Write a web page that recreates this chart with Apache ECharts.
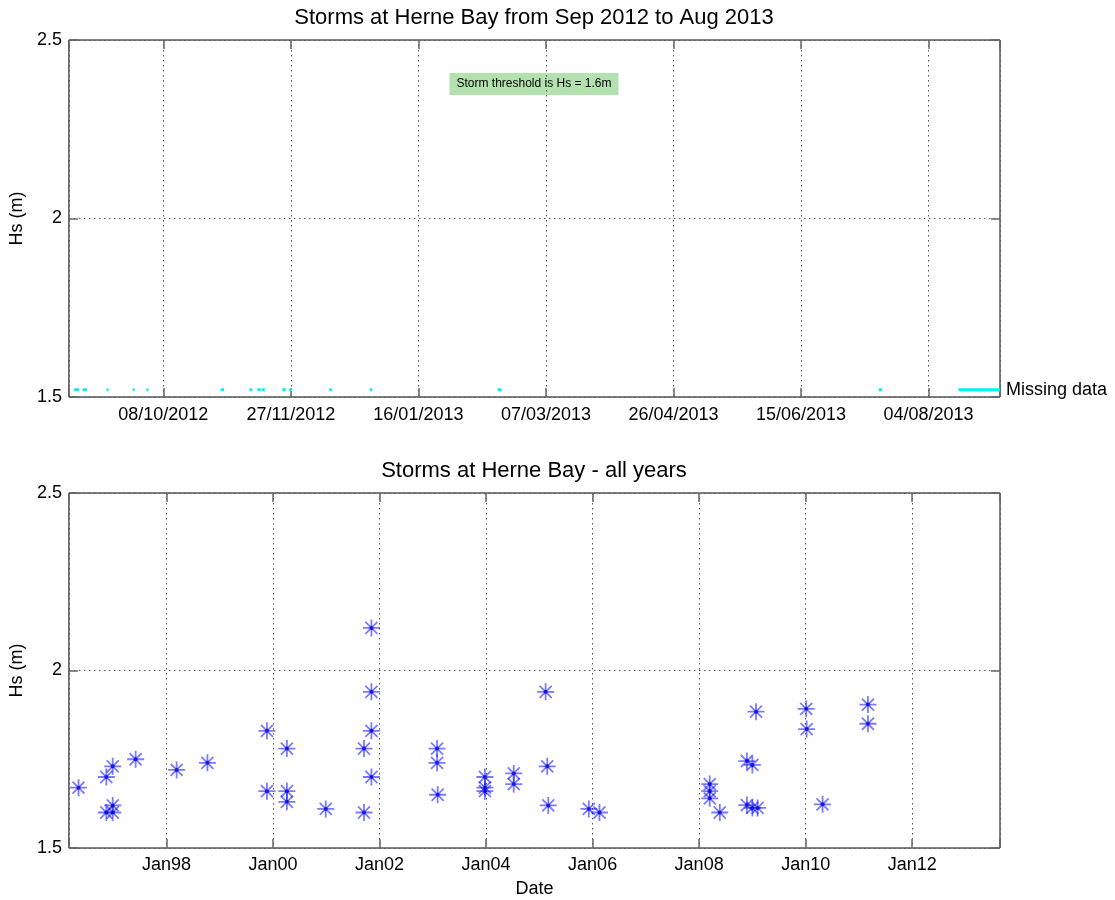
<!DOCTYPE html>
<html>
<head>
<meta charset="utf-8">
<script src="https://cdn.jsdelivr.net/npm/echarts@6/dist/echarts.min.js"></script>
<style>html,body{margin:0;padding:0;background:#fff}#c{width:1115px;height:900px}</style>
</head>
<body>
<div id="c"></div>
<script>
// ---------- data ----------
const topTitle = 'Storms at Herne Bay from Sep 2012 to Aug 2013';
const bottomTitle = 'Storms at Herne Bay - all years';
const thresholdNote = 'Storm threshold is Hs = 1.6m';
const missingLabel = 'Missing data';

const topRange = ['2012-09-01T00:00Z', '2013-09-01T00:00Z'];
const topTickAnchor = '2012-10-08T00:00Z'; // first dated tick, ticks every 50 days
const topTickDays = 50;
const hsTicks = [1.5, 2, 2.5];

const missingStarts = [
  '2012-09-03T02:00Z','2012-09-06T12:00Z','2012-09-15T18:00Z','2012-09-25T23:00Z',
  '2012-10-01T10:00Z','2012-10-30T12:00Z','2012-11-10T19:00Z','2012-11-13T22:00Z',
  '2012-11-15T17:00Z','2012-11-23T17:00Z','2012-11-26T10:00Z','2012-12-12T02:00Z',
  '2012-12-27T22:00Z','2013-02-16T02:00Z','2013-07-15T12:00Z','2013-08-15T17:00Z'
];
const missingEnds = [
  '2012-09-04T22:00Z','2012-09-08T01:00Z','2012-09-16T13:00Z','2012-09-26T18:00Z',
  '2012-10-02T05:00Z','2012-10-31T19:00Z','2012-11-11T19:00Z','2012-11-15T05:00Z',
  '2012-11-16T19:00Z','2012-11-25T00:00Z','2012-11-27T12:00Z','2012-12-13T02:00Z',
  '2012-12-28T22:00Z','2013-02-17T12:00Z','2013-07-16T19:00Z','2013-09-01T00:00Z'
];
const missingLevel = 1.52;

const allRange = ['1996-03-02', '2013-08-26'];
const allTickYears = 2;
const stormDates = [
  '1996-05-07','1996-11-14','1996-12-28','1996-11-14','1996-12-28','1996-12-28','1997-06-03',
  '1998-03-11','1998-10-08','1999-11-20','1999-11-20','2000-04-05','2000-04-05','2000-04-05',
  '2000-12-28','2001-09-16','2001-09-16','2001-11-06','2001-11-06','2001-11-06','2001-11-06',
  '2003-01-30','2003-01-30','2003-02-03','2003-12-24','2003-12-24','2003-12-24','2004-07-09',
  '2004-07-09','2005-02-13','2005-02-24','2005-03-03','2005-12-06','2006-02-17','2008-03-14',
  '2008-03-14','2008-03-14','2008-05-22','2008-11-24','2009-01-01','2009-01-26','2008-11-24',
  '2009-01-01','2009-02-06','2010-01-05','2010-01-08','2010-04-27','2011-03-04','2011-03-04'
];
const stormHs = [
  1.67,1.70,1.73,1.60,1.62,1.60,1.75,
  1.72,1.74,1.83,1.66,1.78,1.66,1.63,
  1.61,1.78,1.60,2.12,1.94,1.83,1.70,
  1.78,1.74,1.65,1.70,1.67,1.66,1.71,
  1.68,1.94,1.73,1.62,1.61,1.60,1.68,
  1.66,1.64,1.60,1.745,1.734,1.884,1.621,
  1.613,1.613,1.892,1.835,1.623,1.904,1.85
];

// ---------- helpers ----------
const DAY = 86400000;
const anchor = Date.parse(topTickAnchor);
const toDays = s => (Date.parse(s) - anchor) / DAY;
const pad2 = n => String(n).padStart(2, '0');
const fmtDay = v => { const d = new Date(anchor + v * DAY); return pad2(d.getUTCDate()) + '/' + pad2(d.getUTCMonth() + 1) + '/' + d.getUTCFullYear(); };
const toYear = s => { const t = Date.parse(s); const y = new Date(t).getUTCFullYear(); const a = Date.UTC(y, 0, 1), b = Date.UTC(y + 1, 0, 1); return y + (t - a) / (b - a); };

const missingData = [];
missingStarts.forEach((s, i) => {
  missingData.push([toDays(s), missingLevel]);
  missingData.push([toDays(missingEnds[i]), missingLevel]);
  if (i < missingStarts.length - 1) missingData.push([toDays(missingEnds[i]), '-']);
});
const stormData = stormDates.map((d, i) => [toYear(d), stormHs[i]]);

const FONT = '"Liberation Sans", Arial, sans-serif';
const tickStyle = { show: true, inside: true, length: 9, lineStyle: { color: '#666', width: 1.5 } };
const gridLine = { show: true, lineStyle: { type: [1.5, 3.5], color: '#555', width: 1 } };
const labelStyle = { color: '#000', fontSize: 18, fontFamily: FONT };
const noLine = { show: false, onZero: false };

const star = 'path://M8,0 L8,16 M0,8 L16,8 M2.34,2.34 L13.66,13.66 M13.66,2.34 L2.34,13.66';

const chart = echarts.init(document.getElementById('c'), null, { renderer: 'canvas' });
chart.setOption({
  animation: false,
  backgroundColor: '#fff',
  textStyle: { fontFamily: FONT },
  grid: [
    { left: 68, top: 40, width: 932, height: 357, show: true, borderColor: '#000', borderWidth: 1, containLabel: false },
    { left: 68, top: 493, width: 932, height: 355, show: true, borderColor: '#000', borderWidth: 1, containLabel: false }
  ],
  xAxis: [
    { type: 'value', gridIndex: 0, min: toDays(topRange[0]), max: toDays(topRange[1]),
      splitNumber: 7, minInterval: topTickDays, maxInterval: topTickDays,
      axisLine: noLine, axisTick: tickStyle, splitLine: gridLine,
      axisLabel: Object.assign({ margin: 9, formatter: v => (Math.abs(v % topTickDays) < 1e-6 ? fmtDay(v) : '') }, labelStyle) },
    { type: 'value', gridIndex: 0, position: 'top', min: toDays(topRange[0]), max: toDays(topRange[1]),
      splitNumber: 7, minInterval: topTickDays, maxInterval: topTickDays,
      axisLine: noLine, axisTick: tickStyle, splitLine: { show: false }, axisLabel: { show: false } },
    { type: 'value', gridIndex: 1, min: toYear(allRange[0]), max: toYear(allRange[1]),
      splitNumber: 8, minInterval: allTickYears, maxInterval: allTickYears,
      axisLine: noLine, axisTick: tickStyle, splitLine: gridLine,
      name: 'Date', nameLocation: 'middle', nameGap: 32, nameTextStyle: labelStyle,
      axisLabel: Object.assign({ margin: 8, formatter: v => (Math.abs(v - Math.round(v)) < 1e-6 && Math.round(v) % allTickYears === 0 ? 'Jan' + pad2(Math.round(v) % 100) : '') }, labelStyle) },
    { type: 'value', gridIndex: 1, position: 'top', min: toYear(allRange[0]), max: toYear(allRange[1]),
      splitNumber: 8, minInterval: allTickYears, maxInterval: allTickYears,
      axisLine: noLine, axisTick: tickStyle, splitLine: { show: false }, axisLabel: { show: false } }
  ],
  yAxis: [
    { type: 'value', gridIndex: 0, min: hsTicks[0], max: hsTicks[hsTicks.length - 1], interval: hsTicks[1] - hsTicks[0],
      axisLine: noLine, axisTick: tickStyle, splitLine: gridLine,
      name: 'Hs (m)', nameLocation: 'middle', nameGap: 35, nameTextStyle: labelStyle,
      axisLabel: Object.assign({ margin: 7, formatter: v => String(v) }, labelStyle) },
    { type: 'value', gridIndex: 0, position: 'right', min: hsTicks[0], max: hsTicks[hsTicks.length - 1], interval: hsTicks[1] - hsTicks[0],
      axisLine: noLine, axisTick: tickStyle, splitLine: { show: false }, axisLabel: { show: false } },
    { type: 'value', gridIndex: 1, min: hsTicks[0], max: hsTicks[hsTicks.length - 1], interval: hsTicks[1] - hsTicks[0],
      axisLine: noLine, axisTick: tickStyle, splitLine: gridLine,
      name: 'Hs (m)', nameLocation: 'middle', nameGap: 35, nameTextStyle: labelStyle,
      axisLabel: Object.assign({ margin: 7, formatter: v => String(v) }, labelStyle) },
    { type: 'value', gridIndex: 1, position: 'right', min: hsTicks[0], max: hsTicks[hsTicks.length - 1], interval: hsTicks[1] - hsTicks[0],
      axisLine: noLine, axisTick: tickStyle, splitLine: { show: false }, axisLabel: { show: false } }
  ],
  series: [
    { type: 'line', xAxisIndex: 0, yAxisIndex: 0, data: missingData, showSymbol: false, symbol: 'none',
      connectNulls: false, silent: true,
      lineStyle: { color: '#00f0f0', width: 3, cap: 'butt' },
      endLabel: { show: true, formatter: missingLabel, color: '#000', fontSize: 18, fontFamily: FONT, distance: 6 } },
    { type: 'scatter', xAxisIndex: 2, yAxisIndex: 2, data: stormData, symbol: star, symbolSize: 17,
      itemStyle: { color: 'transparent', borderColor: 'rgba(20,20,255,0.7)', borderWidth: 1.8 } },
    { type: 'scatter', xAxisIndex: 2, yAxisIndex: 2, data: stormData, symbol: 'circle', symbolSize: 4,
      itemStyle: { color: '#0000cc' } }
  ],
  graphic: [
    { type: 'text', x: 534, y: 7, style: { text: topTitle, align: 'center', fill: '#000', font: '22px ' + FONT } },
    { type: 'text', x: 534, y: 460, style: { text: bottomTitle, align: 'center', fill: '#000', font: '22px ' + FONT } },
    { type: 'text', x: 534, y: 73, style: { text: thresholdNote, align: 'center', fill: '#000', font: '12px ' + FONT,
      backgroundColor: '#b3e2b0', padding: [5, 7, 5, 7] } }
  ]
});
</script>
</body>
</html>
